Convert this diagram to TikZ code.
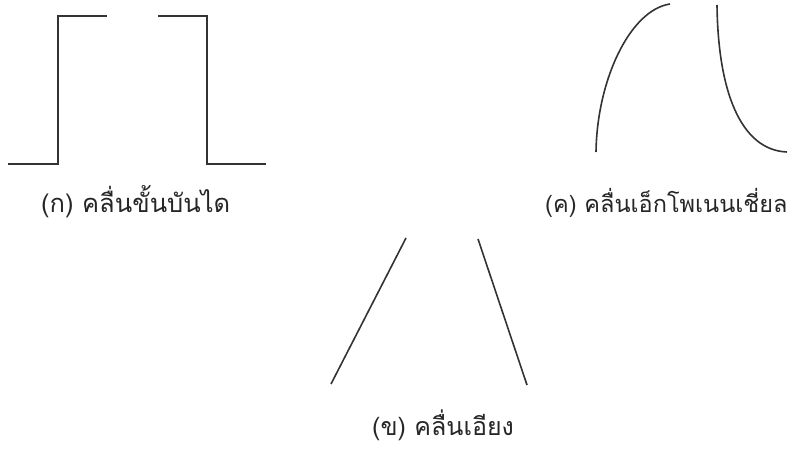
\documentclass[tikz,border=0pt]{standalone}
\usepackage{fontspec}
\newfontfamily\thaifont[Script=Thai]{Loma}
\begin{document}
\begin{tikzpicture}[x=1pt,y=-1pt,
  wave/.style={draw=black!80, line width=1.6pt, line join=miter},
  lbl/.style={font=\thaifont\fontsize{25}{28}\selectfont, text=black!85, inner sep=0pt}]
\useasboundingbox (0,0) rectangle (787,449);
% step wave
\coordinate (s1) at (8,164);
\coordinate (s2) at (58,164);
\coordinate (s3) at (58,16);
\coordinate (s4) at (107,16);
\coordinate (s5) at (158,16);
\coordinate (s6) at (207,16);
\coordinate (s7) at (207,164);
\coordinate (s8) at (266,164);
\draw[wave] (s1) -- (s2) -- (s3) -- (s4);
\draw[wave] (s5) -- (s6) -- (s7) -- (s8);
% exponential
\coordinate (e1) at (596,152);
\coordinate (e2) at (670,4);
\coordinate (e3) at (717,5);
\coordinate (e4) at (787,152);
\draw[wave] (e1) .. controls (597,80) and (630,10) .. (e2);
\draw[wave] (e3) .. controls (718,90) and (740,150) .. (e4);
% ramp
\coordinate (r1) at (331,384);
\coordinate (r2) at (406,238);
\coordinate (r3) at (478,239);
\coordinate (r4) at (527,385);
\draw[wave] (r1) -- (r2);
\draw[wave] (r3) -- (r4);
% labels
\node[lbl, anchor=base west, font=\thaifont\fontsize{25.5}{28}\selectfont] (la) at (41,213) {(ก) คลื่นขั้นบันได};
\node[lbl, anchor=base west, font=\thaifont\fontsize{23.5}{28}\selectfont] (lc) at (545,213) {(ค) คลื่นเอ็กโพเนนเชี่ยล};
\node[lbl, anchor=base west] (lb) at (372,435) {(ข) คลื่นเอียง};
\end{tikzpicture}
\end{document}
